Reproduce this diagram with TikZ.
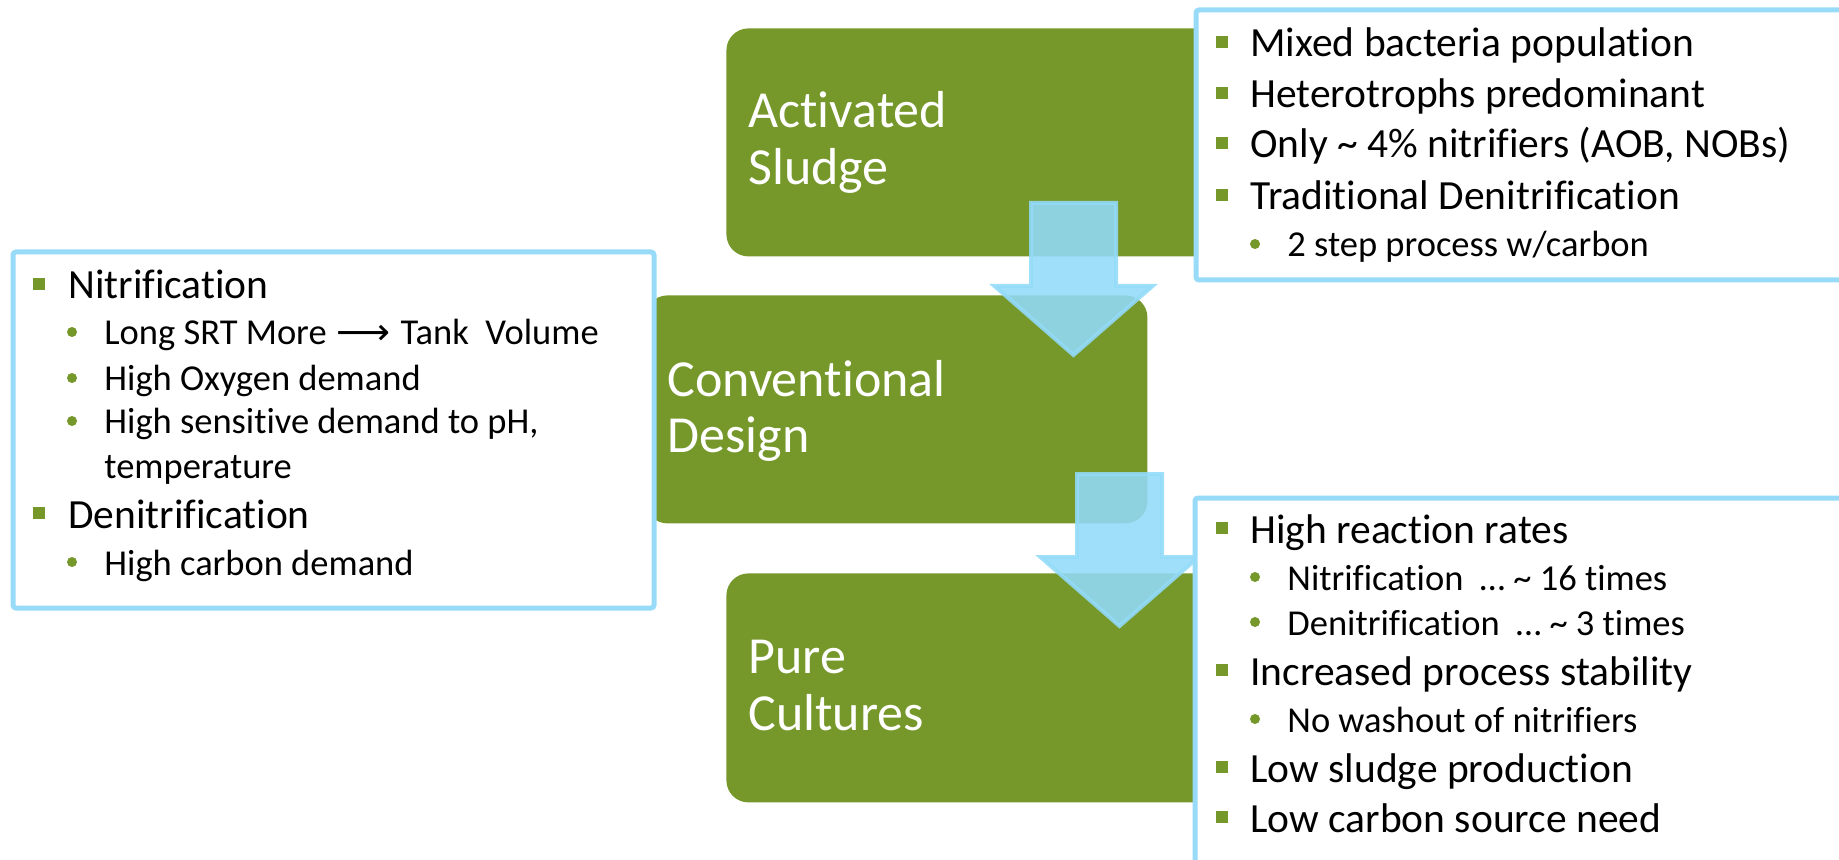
\documentclass[tikz,border=0pt]{standalone}
\usepackage{fontspec}
\setmainfont{Carlito}[Ligatures=NoCommon]
\newfontfamily\arrowfont{DejaVu Sans}
\usepackage{graphicx}
\definecolor{leaf}{RGB}{118,152,43}
\definecolor{sky}{RGB}{147,219,249}
\definecolor{frame}{RGB}{151,219,249}

\begin{document}
\begin{tikzpicture}[x=0.5pt,y=-0.5pt,
  stage/.style={fill=leaf, draw=none, rounded corners=11pt, inner sep=0pt, anchor=north west},
  notebox/.style={draw=frame, line width=2.5pt, fill=white, rounded corners=1.5pt, inner sep=0pt, anchor=north west},
  flow/.style={fill=sky, draw=sky, fill opacity=0.88, draw opacity=0.88, line width=2pt, line join=miter},
  stagetext/.style={anchor=base west, inner sep=0pt, text=white, font=\fontsize{26}{30}\selectfont},
  itemA/.style={anchor=base west, inner sep=0pt, font=\fontsize{20.75}{24}\selectfont},
  itemB/.style={anchor=base west, inner sep=0pt, font=\fontsize{18.25}{22}\selectfont},
  sq/.style={fill=leaf, minimum size=6pt, inner sep=0pt},
  dot/.style={circle, fill=leaf, minimum size=5pt, inner sep=0pt},
  downflow/.pic={\path[flow] (-42.5,0) -- (42.5,0) -- (42.5,83) -- (79,83)
        -- (0,152) -- (-79,83) -- (-42.5,83) -- cycle;}
]
\clip (0,0) rectangle (1839,860);

% process stages
\node[stage, minimum width=251pt, minimum height=114pt] (sludge) at (726,28) {};
\node[stage, minimum width=251pt, minimum height=114pt] (conv) at (645,295) {};
\node[stage, minimum width=251pt, minimum height=114.5pt] (pure) at (726,573) {};

\node[stagetext] (sludgeA) at (748,128) {Activated};
\node[stagetext] (sludgeB) at (748,185) {Sludge};
\node[stagetext] (convA) at (667,397) {Conventional};
\node[stagetext] (convB) at (667,452) {Design};
\node[stagetext] (pureA) at (748,673) {Pure};
\node[stagetext] (pureB) at (748,730) {Cultures};

% block arrows between the stages
\pic at (1073.5,203) {downflow};
\pic at (1119.5,474) {downflow};

% note boxes
\node[notebox, minimum width=328.25pt, minimum height=135pt] (noteA) at (1193.5,7.5) {};
\node[notebox, minimum width=320.5pt, minimum height=178pt] (noteB) at (10.5,249.5) {};
\node[notebox, minimum width=328.75pt, minimum height=192.25pt] (noteC) at (1192.5,495.5) {};

% notes on activated sludge
\node[sq] (a1b) at (1222,42) {};  \node[itemA] (a1) at (1250,57) {Mixed bacteria population};
\node[sq] (a2b) at (1222,93) {};  \node[itemA] (a2) at (1250,108) {Heterotrophs predominant};
\node[sq] (a3b) at (1222,143) {}; \node[itemA] (a3) at (1250,158) {Only \textasciitilde{} 4\% nitrifiers (AOB, NOBs)};
\node[sq] (a4b) at (1222,195) {}; \node[itemA] (a4) at (1250,210) {Traditional Denitrification};
\node[dot] (a5b) at (1255,244) {}; \node[itemB] (a5) at (1287,257) {2 step process w/carbon};

% notes on conventional design
\node[sq] (c1b) at (39,284) {};   \node[itemA] (c1) at (68,299) {Nitrification};
\node[dot] (c2b) at (72,332) {};  \node[itemB] (c2) at (104,345) {Long SRT More\hspace{5pt}\resizebox{27pt}{\height}{\arrowfont ⟶}\hspace{5pt}Tank\ \ Volume};
\node[dot] (c3b) at (72,378) {};  \node[itemB] (c3) at (104,391) {High Oxygen demand};
\node[dot] (c4b) at (72,421) {};  \node[itemB] (c4) at (104,434) {High sensitive demand to pH,};
\node[itemB] (c5) at (104,478) {temperature};
\node[sq] (c6b) at (39,513) {};   \node[itemA] (c6) at (68,528) {Denitrification};
\node[dot] (c7b) at (72,562) {};  \node[itemB] (c7) at (104,575) {High carbon demand};

% notes on pure cultures
\node[sq] (p1b) at (1222,528) {};  \node[itemA] (p1) at (1250,543) {High reaction rates};
\node[dot] (p2b) at (1255,577) {}; \node[itemB] (p2) at (1287,590) {Nitrification\ \ … \textasciitilde{} 16 times};
\node[dot] (p3b) at (1255,622) {}; \node[itemB] (p3) at (1287,635) {Denitrification\ \ … \textasciitilde{} 3 times};
\node[sq] (p4b) at (1222,670) {};  \node[itemA] (p4) at (1250,685) {Increased process stability};
\node[dot] (p5b) at (1255,719) {}; \node[itemB] (p5) at (1287,732) {No washout of nitrifiers};
\node[sq] (p6b) at (1222,767) {};  \node[itemA] (p6) at (1250,782) {Low sludge production};
\node[sq] (p7b) at (1222,817) {};  \node[itemA] (p7) at (1250,832) {Low carbon source need};
\end{tikzpicture}
\end{document}
